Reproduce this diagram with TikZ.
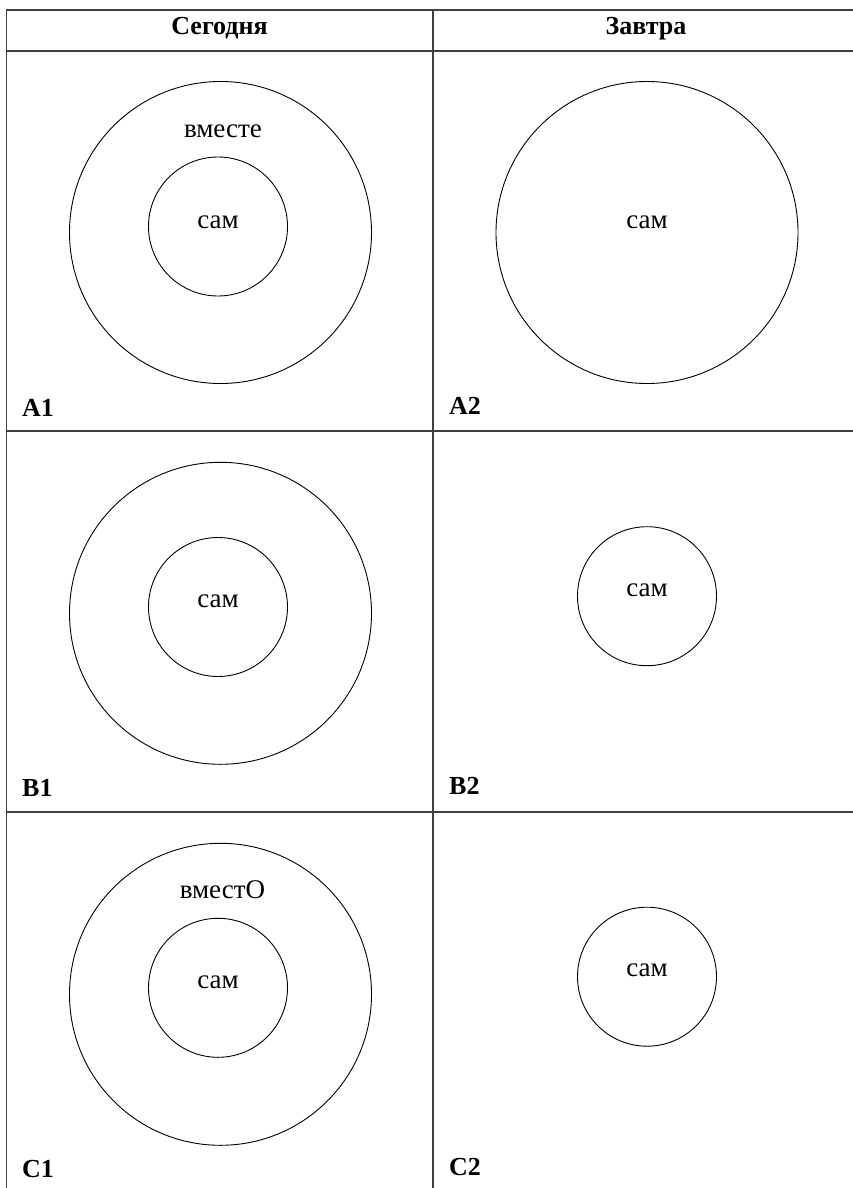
\documentclass[tikz,border=0pt]{standalone}
\usepackage{fontspec}
\setmainfont{Liberation Serif}

\begin{document}
\begin{tikzpicture}[x=1pt,y=-1pt,
  rule/.style={line width=1.4pt, color=black!75},
  ring/.style={line width=0.9pt},
  word/.style={font=\fontsize{27}{30}\selectfont, inner sep=0pt},
  head/.style={font=\fontsize{26}{30}\selectfont\bfseries, anchor=base, inner sep=0pt},
  tag/.style={font=\fontsize{26}{30}\selectfont\bfseries, anchor=base west, inner sep=0pt}]
\useasboundingbox (0,0) rectangle (853,1188);

% table rules
\draw[rule] (6.5,1188) -- (6.5,10) -- (870,10);
\draw[rule] (6.5,51) -- (870,51);
\draw[rule] (6.5,431) -- (870,431);
\draw[rule] (6.5,812) -- (870,812);
\draw[rule] (433,10) -- (433,1188);

% header
\node[head] (today) at (219.5,35) {Сегодня};
\node[head] (tomorrow) at (646,35) {Завтра};

% row A
\draw[ring] (220.5,232.5) circle [radius=151];
\draw[ring] (218,226.5) circle [radius=69.5];
\node[word] (togetherA) at (223,131) {вместе};
\node[word] (aloneA1) at (218,222) {сам};
\draw[ring] (647,232.5) circle [radius=151];
\node[word] (aloneA2) at (647,222) {сам};
\node[tag] (A1) at (22,416) {A1};
\node[tag] (A2) at (449,414.5) {A2};

% row B
\draw[ring] (220.5,613.3) circle [radius=151];
\draw[ring] (218,607) circle [radius=69.5];
\node[word] (aloneB1) at (218,601) {сам};
\draw[ring] (647,596.2) circle [radius=69.5];
\node[word] (aloneB2) at (647,590) {сам};
\node[tag] (B1) at (22,796) {B1};
\node[tag] (B2) at (449,794) {B2};

% row C
\draw[ring] (220.5,994.3) circle [radius=151];
\draw[ring] (218,987.8) circle [radius=69.5];
\node[word] (togetherC) at (222.5,890) {вместО};
\node[word] (aloneC1) at (218,982) {сам};
\draw[ring] (647,976.7) circle [radius=69.5];
\node[word] (aloneC2) at (647,970.7) {сам};
\node[tag] (C1) at (22,1177) {C1};
\node[tag] (C2) at (449,1175) {C2};

\end{tikzpicture}
\end{document}
